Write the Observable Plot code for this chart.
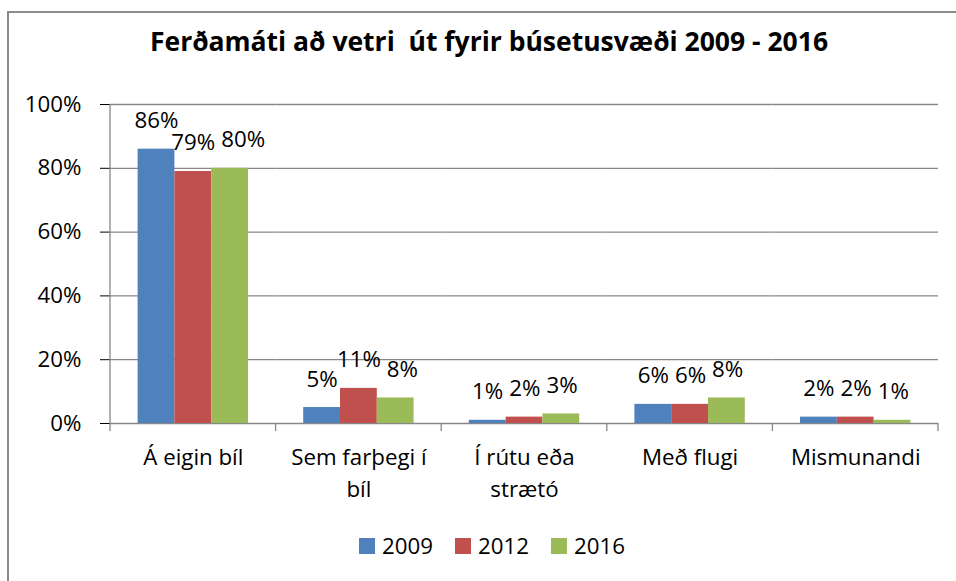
<!DOCTYPE html>
<html>
<head>
<meta charset="utf-8">
<script src="https://cdn.jsdelivr.net/npm/d3@7"></script>
<script src="https://cdn.jsdelivr.net/npm/@observablehq/plot@0.6"></script>
<style>
  html, body { margin: 0; padding: 0; background: #fff; }
  #wrap { position: relative; width: 956px; height: 581px; overflow: hidden; font-family: "Open Sans", Lato, sans-serif; }
  #border { position: absolute; left: 7px; top: 11px; width: 1000px; height: 700px; border-left: 2px solid #8c8c8c; border-top: 2px solid #8c8c8c; }
  #title { position: absolute; left: 0; width: 978px; top: 22px; line-height: 38px; text-align: center; font-weight: bold; font-size: 26.5px; color: #000; white-space: pre; }
  #chart { position: absolute; left: 0; top: 80px; }
  #chart svg { overflow: visible; }
  #chart g[aria-label="y-axis tick"] { stroke: #878787; }
  #chart g[aria-label="y-axis tick label"] { fill: #000; }
  #legend { position: absolute; top: 530px; left: 359px; display: flex; align-items: center; font-size: 22.3px; color: #000; }
  .item { display: flex; align-items: center; margin-right: 22px; }
  .sw { width: 16px; height: 16px; margin-right: 7px; }
</style>
</head>
<body>
<div id="wrap">
  <div id="border"></div>
  <div id="title">Ferðamáti að vetri  út fyrir búsetusvæði 2009 - 2016</div>
  <div id="chart"></div>
  <div id="legend"></div>
</div>
<script>
const categories = ["Á eigin bíl", "Sem farþegi í bíl", "Í rútu eða strætó", "Með flugi", "Mismunandi"];
const categoryLabels = ["Á eigin bíl", "Sem farþegi í\nbíl", "Í rútu eða\nstrætó", "Með flugi", "Mismunandi"];
const years = ["2009", "2012", "2016"];
const colors = ["#4F81BD", "#C0504D", "#9BBB59"];
const values2009 = [86, 5, 1, 6, 2];
const values2012 = [79, 11, 2, 6, 2];
const values2016 = [80, 8, 3, 8, 1];
const yTicks = [0, 20, 40, 60, 80, 100];

const series = [values2009, values2012, values2016];
const data = [];
categories.forEach((c, i) => years.forEach((yr, j) => data.push({cat: c, year: yr, value: series[j][i]})));
const labelData = categories.map((c, i) => ({cat: c, label: categoryLabels[i]}));

const font = "'Open Sans', Lato, sans-serif";
const chart = Plot.plot({
  width: 956,
  height: 440,
  marginLeft: 110,
  marginRight: 18,
  marginTop: 24,
  marginBottom: 97,
  style: {fontFamily: font, fontSize: "22.3px", color: "#000", background: "transparent"},
  fx: {domain: categories, padding: 0, round: false, axis: null, label: null},
  x: {domain: years, paddingInner: 0, paddingOuter: 0.75, round: false, axis: null, label: null},
  y: {domain: [0, 100], ticks: yTicks, tickFormat: d => d + "%", tickSize: 10, tickPadding: 19, label: null},
  color: {domain: years, range: colors},
  marks: [
    Plot.ruleY(yTicks, {y: d => d, stroke: "#878787", strokeWidth: 1.3}),
    Plot.barY(data, {fx: "cat", x: "year", y: "value", fill: "year"}),
    Plot.text(data, {fx: "cat", x: "year", y: "value", text: d => d.value + "%", lineAnchor: "bottom", dy: -21, fontSize: 22.3, fill: "#000"}),
    Plot.text(labelData, {fx: "cat", text: "label", frameAnchor: "bottom", lineAnchor: "top", dy: 19, lineHeight: 1.42, fontSize: 22.3, fill: "#000"})
  ]
});
document.getElementById("chart").appendChild(chart);

// axis line and category boundary ticks derived from Plot's scales
const fx = chart.scale("fx");
const ys = chart.scale("y");
const g = d3.select(chart).append("g").attr("stroke", "#878787").attr("stroke-width", 1.3);
const x0 = fx.apply(categories[0]);
g.append("line").attr("x1", x0).attr("x2", x0).attr("y1", ys.apply(100)).attr("y2", ys.apply(0) + 8);
categories.forEach(c => {
  const xe = fx.apply(c) + fx.bandwidth;
  g.append("line").attr("x1", xe).attr("x2", xe).attr("y1", ys.apply(0)).attr("y2", ys.apply(0) + 8);
});

// nudge colliding value labels to the right (like the spreadsheet's label placement)
const valueLabels = Array.from(chart.querySelectorAll('g[aria-label="text"] text'))
  .filter(t => /%$/.test(t.textContent));
const byParent = d3.group(valueLabels, t => t.parentNode);
for (const [, texts] of byParent) {
  const items = texts.map(t => ({t, r: t.getBoundingClientRect()}))
    .sort((a, b) => (a.r.left + a.r.right) - (b.r.left + b.r.right));
  let prev = null;
  for (const it of items) {
    let left = it.r.left, right = it.r.right;
    const top = it.r.top + 7, bottom = it.r.bottom - 7;
    if (prev) {
      const vOverlap = top < prev.bottom && prev.top < bottom;
      const need = prev.right + 6 - left;
      if (vOverlap && need > 0) {
        it.t.setAttribute("transform", (it.t.getAttribute("transform") || "") + ` translate(${need},0)`);
        left += need; right += need;
      }
    }
    prev = {left, right, top, bottom};
  }
}

const legend = document.getElementById("legend");
years.forEach((yr, j) => {
  const item = document.createElement("div");
  item.className = "item";
  const sw = document.createElement("div");
  sw.className = "sw";
  sw.style.background = colors[j];
  const t = document.createElement("span");
  t.textContent = yr;
  item.appendChild(sw);
  item.appendChild(t);
  legend.appendChild(item);
});
</script>
</body>
</html>
